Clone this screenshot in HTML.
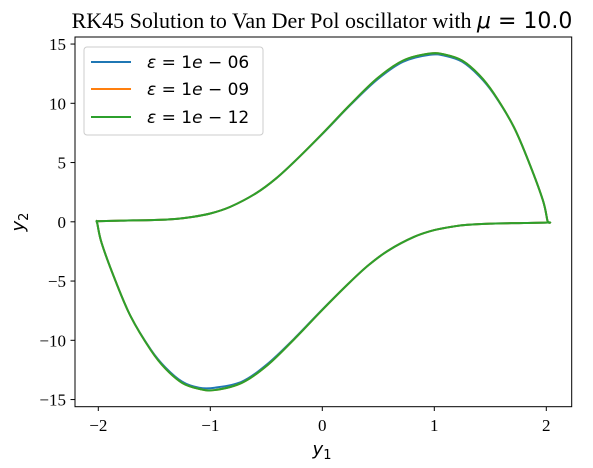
<!DOCTYPE html>
<html><head><meta charset="utf-8"><style>
body{margin:0;background:#fff}
svg{display:block}
.tick{font-family:"Liberation Serif",serif;font-size:17px;fill:#000}
.math{font-family:"DejaVu Sans",sans-serif}
</style></head><body>
<svg id="chart" width="593" height="468" viewBox="0 0 593 468">
<text x="322" y="28" text-anchor="middle" style="font-family:'Liberation Serif',serif;font-size:22px">RK45 Solution to Van Der Pol oscillator with <tspan class="math" font-style="italic">μ</tspan><tspan class="math"> = 10.0</tspan></text>
<g id="plot"></g>
<rect x="75" y="37" width="496.7" height="369.7" fill="none" stroke="#000" stroke-width="1"/>
<g id="ticks"></g>
<text x="322" y="455" text-anchor="middle" class="math" font-size="18"><tspan font-style="italic">y</tspan><tspan font-size="13" dy="4">1</tspan></text>
<text transform="translate(24,222) rotate(-90)" text-anchor="middle" class="math" font-size="18"><tspan font-style="italic">y</tspan><tspan font-size="13" dy="4">2</tspan></text>
<g>
<rect x="84" y="47" width="179" height="88" rx="3" fill="#fff" fill-opacity="0.8" stroke="#ccc"/>
<line x1="91" y1="62" x2="131" y2="62" stroke="#1f77b4" stroke-width="2"/>
<text x="147" y="68" class="math" font-size="17"><tspan font-style="italic">ε</tspan> = 1<tspan font-style="italic">e</tspan> − 06</text>
<line x1="91" y1="89" x2="131" y2="89" stroke="#ff7f0e" stroke-width="2"/>
<text x="147" y="95" class="math" font-size="17"><tspan font-style="italic">ε</tspan> = 1<tspan font-style="italic">e</tspan> − 09</text>
<line x1="91" y1="117" x2="131" y2="117" stroke="#2ca02c" stroke-width="2"/>
<text x="147" y="123" class="math" font-size="17"><tspan font-style="italic">ε</tspan> = 1<tspan font-style="italic">e</tspan> − 12</text>
</g>
</svg>
<script>
const xTicks = [-2, -1, 0, 1, 2];
const yTicks = [15, 10, 5, 0, -5, -10, -15];
const y1Values = [-2.02,-1.8,-1.5,-1.3,-1.18,-1.0,-0.82,-0.59,-0.41,-0.23,0.01,0.25,0.49,0.72,0.96,1.1,1.25,1.4,1.53,1.71,1.85,1.97,2.01,
  2.02,1.8,1.5,1.3,1.18,1.0,0.82,0.59,0.41,0.23,-0.01,-0.25,-0.49,-0.72,-0.96,-1.1,-1.25,-1.4,-1.53,-1.71,-1.85,-1.97,-2.01,-2.02];
const y2Eps6 = [0.05,0.1,0.15,0.25,0.38,0.7,1.27,2.42,3.68,5.25,7.5,9.85,12.0,13.5,14.1,14.0,13.5,12.3,10.8,8.0,4.9,1.8,0.1,
  -0.05,-0.1,-0.15,-0.25,-0.38,-0.7,-1.27,-2.42,-3.68,-5.25,-7.5,-9.85,-12.0,-13.5,-14.0,-14.0,-13.5,-12.3,-10.8,-8.0,-4.9,-1.8,-0.1,0.05];
const y2Eps9 = [0.05,0.1,0.15,0.25,0.38,0.7,1.27,2.42,3.68,5.25,7.53,9.9,12.1,13.6,14.2,14.1,13.6,12.4,10.85,8.0,4.9,1.8,0.1,
  -0.05,-0.1,-0.15,-0.25,-0.38,-0.7,-1.27,-2.42,-3.68,-5.25,-7.53,-9.9,-12.1,-13.6,-14.2,-14.1,-13.6,-12.4,-10.85,-8.0,-4.9,-1.8,-0.1,0.05];
const y2Eps12 = [0.05,0.1,0.15,0.25,0.38,0.7,1.27,2.42,3.68,5.25,7.53,9.9,12.1,13.6,14.2,14.1,13.6,12.4,10.85,8.0,4.9,1.8,0.1,
  -0.05,-0.1,-0.15,-0.25,-0.38,-0.7,-1.27,-2.42,-3.68,-5.25,-7.53,-9.9,-12.1,-13.6,-14.2,-14.1,-13.6,-12.4,-10.85,-8.0,-4.9,-1.8,-0.1,0.05];

const NS = "http://www.w3.org/2000/svg";
function sx(v){ return 322.3 + v * 112; }
function sy(v){ return 221.8 - v * 11.85; }

const plot = document.getElementById('plot');
function drawSeries(ys, color, name){
  const pts = y1Values.map((x,i)=>[sx(x), sy(ys[i])]);
  let d = "M" + pts[0][0] + "," + pts[0][1];
  for (let i=0;i<pts.length-1;i++){
    const p0 = pts[Math.max(i-1,0)], p1 = pts[i], p2 = pts[i+1], p3 = pts[Math.min(i+2,pts.length-1)];
    const c1x = p1[0] + (p2[0]-p0[0])/6, c1y = p1[1] + (p2[1]-p0[1])/6;
    const c2x = p2[0] - (p3[0]-p1[0])/6, c2y = p2[1] - (p3[1]-p1[1])/6;
    d += " C" + c1x + "," + c1y + " " + c2x + "," + c2y + " " + p2[0] + "," + p2[1];
  }
  const path = document.createElementNS(NS, 'path');
  path.setAttribute('d', d);
  path.setAttribute('fill', 'none');
  path.setAttribute('stroke', color);
  path.setAttribute('stroke-width', '2');
  path.setAttribute('stroke-linejoin', 'round');
  
  
  plot.appendChild(path);
}
drawSeries(y2Eps6, '#1f77b4', 'series-1e-06');
drawSeries(y2Eps9, '#ff7f0e', 'series-1e-09');
drawSeries(y2Eps12, '#2ca02c', 'series-1e-12');

const ticks = document.getElementById('ticks');
xTicks.forEach(v=>{
  const x = sx(v);
  const l = document.createElementNS(NS,'line');
  l.setAttribute('x1',x); l.setAttribute('x2',x); l.setAttribute('y1',406.7); l.setAttribute('y2',411);
  l.setAttribute('stroke','#000');
  
  
  ticks.appendChild(l);
  const t = document.createElementNS(NS,'text');
  t.setAttribute('x',x); t.setAttribute('y',431); t.setAttribute('text-anchor','middle'); t.setAttribute('class','tick');
  t.textContent = v < 0 ? '−' + Math.abs(v) : String(v);
  
  
  ticks.appendChild(t);
});
yTicks.forEach(v=>{
  const y = sy(v);
  const l = document.createElementNS(NS,'line');
  l.setAttribute('x1',70.5); l.setAttribute('x2',75); l.setAttribute('y1',y); l.setAttribute('y2',y);
  l.setAttribute('stroke','#000');
  
  
  ticks.appendChild(l);
  const t = document.createElementNS(NS,'text');
  t.setAttribute('x',66); t.setAttribute('y',y+6); t.setAttribute('text-anchor','end'); t.setAttribute('class','tick');
  t.textContent = v < 0 ? '−' + Math.abs(v) : String(v);
  
  
  ticks.appendChild(t);
});
</script>
</body></html>
